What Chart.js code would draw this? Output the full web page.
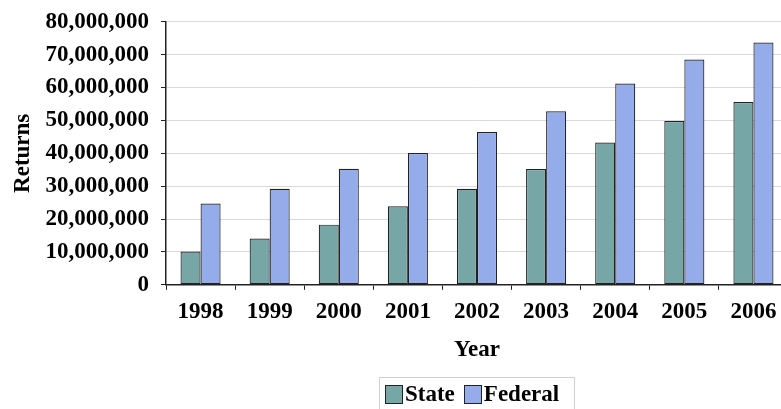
<!DOCTYPE html>
<html>
<head>
<meta charset="utf-8">
<script src="https://cdn.jsdelivr.net/npm/chart.js@4"></script>
<style>
  html, body { margin: 0; padding: 0; background: #fff; overflow: hidden; }
  #wrap { position: relative; width: 790px; height: 409px; overflow: hidden; }
  #returnsChart { position: absolute; left: 0; top: -4px; }
  #legend {
    position: absolute; left: 379px; top: 377px; width: 196px; height: 40px;
    border: 1px solid #d0d0d0; box-sizing: border-box;
    font: bold 23px "Liberation Serif", "Times New Roman", serif;
    display: flex; align-items: flex-start; padding-left: 5px; padding-top: 3px;
  }
  #legend span.item { display: flex; align-items: center; margin-right: 9px; }
  #legend span.sw { display: inline-block; width: 16px; height: 17px; border: 1px solid #222; margin-right: 2px; }
</style>
</head>
<body>
<div id="wrap">
  <canvas id="returnsChart" width="790" height="413"></canvas>
  <div id="legend"></div>
</div>
<script>
/// === DATA === ///
const years = ["1998", "1999", "2000", "2001", "2002", "2003", "2004", "2005", "2006"];
const stateReturns = [10100000, 14100000, 18300000, 23900000, 29200000, 35200000, 43300000, 49800000, 55600000];
const federalReturns = [24700000, 29200000, 35300000, 40100000, 46500000, 52800000, 61200000, 68500000, 73700000];
const seriesNames = ["State", "Federal"];
const seriesColors = ["#76a7a6", "#94acea"];

const font = { family: '"Liberation Serif", "Times New Roman", serif', size: 23, weight: "bold" };

new Chart(document.getElementById("returnsChart"), {
  type: "bar",
  data: {
    labels: years,
    datasets: [
      {
        label: seriesNames[0],
        data: stateReturns,
        backgroundColor: seriesColors[0],
        borderColor: "#222",
        borderWidth: 1.2,
        borderSkipped: false,
      },
      {
        label: seriesNames[1],
        data: federalReturns,
        backgroundColor: seriesColors[1],
        borderColor: "#222",
        borderWidth: 1.2,
        borderSkipped: false,
      },
    ],
  },
  options: {
    responsive: false,
    animation: false,
    layout: { padding: { top: 0, left: 9, right: 2, bottom: 45 } },
    datasets: { bar: { categoryPercentage: 0.58, barPercentage: 1 } },
    plugins: { legend: { display: false }, tooltip: { enabled: false } },
    scales: {
      x: {
        grid: { drawOnChartArea: false, tickLength: 5, tickColor: "#222", offset: true },
        border: { color: "#222", width: 1.5 },
        ticks: { color: "#000", font: font, padding: 8 },
        title: { display: true, text: "Year", color: "#000", font: font, padding: { top: 3, bottom: 0 } },
      },
      y: {
        min: 0,
        max: 80000000,
        afterFit: (scale) => { scale.width = 157; },
        ticks: {
          stepSize: 10000000,
          color: "#000",
          font: font,
          padding: 12,
          callback: (v) => v.toLocaleString("en-US"),
        },
        grid: { color: "#d9d9d9", tickLength: 5, tickColor: "#222" },
        border: { color: "#222", width: 1.5 },
        title: { display: true, text: "Returns", color: "#000", font: font, padding: { top: 0, bottom: 0 } },
      },
    },
  },
});

// legend as html, built from the same arrays
const legendEl = document.getElementById("legend");
seriesNames.forEach((name, i) => {
  const item = document.createElement("span");
  item.className = "item";
  const sw = document.createElement("span");
  sw.className = "sw";
  sw.style.background = seriesColors[i];
  item.appendChild(sw);
  item.appendChild(document.createTextNode(name));
  legendEl.appendChild(item);
});
</script>
</body>
</html>
